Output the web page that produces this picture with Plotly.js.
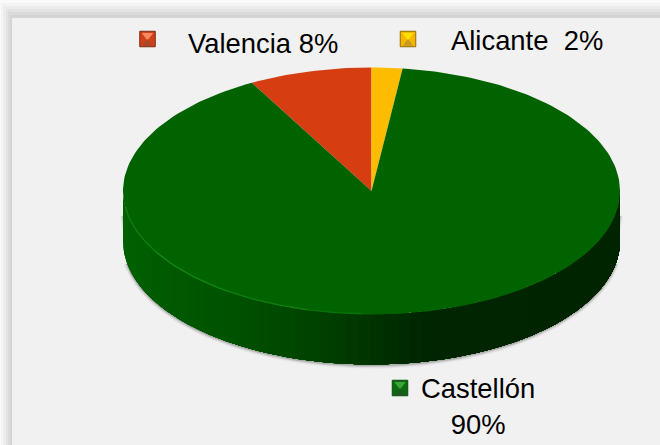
<!DOCTYPE html>
<html>
<head>
<meta charset="utf-8">
<script src="https://cdn.plot.ly/plotly-3.0.1.min.js"></script>
<style>html,body{margin:0;padding:0;background:#fff}#chart{width:660px;height:445px}</style>
</head>
<body>
<div id="chart"></div>
<script>
// Data
var categories = ['Valencia', 'Alicante', 'Castellón'];
var shares = [8, 2, 90];
var sliceColors = ['#d63e12', '#fdbc00', '#006300'];
var legendLabels = ['Valencia 8%', 'Alicante\u00a0\u00a02%', 'Castellón<br>90%'];

// Geometry of the tilted pie, in pixel-like axis units
var cx = 371.5, cy = 191, rx = 248.5, ry = 123.5, depth = 50;
var startDeg = -shares[0] * 3.6;

function pt(deg, dy) {
  var a = deg * Math.PI / 180;
  return [cx + rx * Math.sin(a), cy - ry * Math.cos(a) + (dy || 0)];
}
function arc(d0, d1, dy) {
  var out = [], n = Math.max(2, Math.ceil(Math.abs(d1 - d0) / 1.5));
  for (var i = 0; i <= n; i++) out.push(pt(d0 + (d1 - d0) * i / n, dy));
  return out;
}
function xs(p) { return p.map(function (q) { return q[0]; }); }
function ys(p) { return p.map(function (q) { return q[1]; }); }
function poly(p, color) {
  return {type: 'scatter', mode: 'lines', x: xs(p), y: ys(p), fill: 'toself',
    fillcolor: color, line: {width: 0, color: color}, hoverinfo: 'skip'};
}
function line(p, color, w) {
  return {type: 'scatter', mode: 'lines', x: xs(p), y: ys(p),
    line: {width: w, color: color, shape: 'linear'}, hoverinfo: 'skip'};
}

var traces = [];

// Soft shadow round the lower rim, starting part way down the wall
[[7, 0.03], [5, 0.05], [3, 0.09], [1.5, 0.14]].forEach(function (s) {
  var rim = arc(100, 260, depth + 1);
  traces.push(line(rim, 'rgba(0,0,0,' + s[1] + ')', s[0]));
  var sideL = arc(262, 270, depth - 14), sideR = arc(90, 98, depth - 14);
  traces.push(line([[sideL[0][0] - 0.5, cy + 40], [sideL[sideL.length - 1][0] - 0.5, cy + 25]], 'rgba(0,0,0,' + s[1] * 0.7 + ')', s[0] * 0.8));
  traces.push(line([[sideR[sideR.length - 1][0] + 0.5, cy + 40], [sideR[0][0] + 0.5, cy + 25]], 'rgba(0,0,0,' + s[1] * 0.7 + ')', s[0] * 0.8));
});

// Side wall: thin bands from left to right, each painted through to the right end
var shadeX = [123, 233, 317, 383, 420, 620];
var shadeG = [96, 80, 64, 46, 37, 36];
function shade(x) {
  for (var i = 1; i < shadeX.length; i++) {
    if (x <= shadeX[i]) {
      var t = (x - shadeX[i - 1]) / (shadeX[i] - shadeX[i - 1]);
      return 'rgb(0,' + Math.round(shadeG[i - 1] + (shadeG[i] - shadeG[i - 1]) * t) + ',0)';
    }
  }
  return 'rgb(0,36,0)';
}
for (var deg = 270; deg > 130; deg -= 3) {
  traces.push(poly(arc(90, deg, 0).concat(arc(deg, 90, depth)), shade(pt(deg)[0])));
}

// Top face, slices from the share values
var d = startDeg;
var sliceOrder = [0, 1, 2];
sliceOrder.forEach(function (i) {
  var d1 = d + shares[i] * 3.6;
  var p = [[cx, cy]].concat(arc(d, d1, 0)).concat([[cx, cy]]);
  traces.push(Object.assign(poly(p, sliceColors[i]), {name: categories[i]}));
  d = d1;
});

// Highlight along the lower left lip of the top face
[[262, 240, 0.55], [240, 215, 0.7], [215, 195, 0.55], [195, 182, 0.3]].forEach(function (s) {
  traces.push(line(arc(s[0], s[1], -0.6), 'rgba(24,150,24,' + s[2] + ')', 1.4));
});

// Legend swatches
var swatchX = [147.5, 408, 400];
var swatchY = [39, 39, 388];
var swatchBase = ['#cf4116', '#f7b500', '#0c6a10'];
var swatchEdge = ['#7d2a12', '#8f6c00', '#0a4a0c'];
var swatchLight = ['#f58a62', '#ffe000', '#37a837'];
var swatchLow = ['#a84a2a', '#c49a20', '#1d5a20'];
traces.push({type: 'scatter', mode: 'markers', x: swatchX, y: swatchY, hoverinfo: 'skip',
  marker: {symbol: 'square', size: 15.5, color: swatchBase, line: {width: 1, color: swatchEdge}}});
traces.push({type: 'scatter', mode: 'markers', x: swatchX, y: swatchY.map(function (v) { return v - 3.5; }), hoverinfo: 'skip',
  marker: {symbol: 'triangle-down', size: 10, color: swatchLight, line: {width: 0}}});
traces.push({type: 'scatter', mode: 'markers', x: swatchX, y: swatchY.map(function (v) { return v + 4.5; }), hoverinfo: 'skip',
  marker: {symbol: 'triangle-up', size: 9, color: swatchLow, line: {width: 0}}});

// Frame bands
var frameBands = [[0, 0, '#fafafa'], [1, 3, '#f4f4f4'], [3, 6, '#ececec'], [6, 9, '#e3e3e3'],
                  [8, 12, '#dbdbdb'], [10, 15, '#d4d4d4'], [12, 18, '#f1f1f1']];
var shapes = frameBands.map(function (b) {
  return {type: 'rect', xref: 'x', yref: 'y', x0: b[0], x1: 660, y0: b[1], y1: 445,
    fillcolor: b[2], line: {width: 0}, layer: 'below'};
});

var font = {family: '"Liberation Sans", Arial, sans-serif', size: 27.4, color: '#000000'};
var annotations = [
  {x: 186, y: 43, text: legendLabels[0], xanchor: 'left'},
  {x: 449, y: 40, text: legendLabels[1], xanchor: 'left'},
  {x: 477.5, y: 406, text: legendLabels[2], xanchor: 'center'}
].map(function (a) {
  return Object.assign(a, {xref: 'x', yref: 'y', yanchor: 'middle', showarrow: false, font: font, align: 'center'});
});

Plotly.newPlot('chart', traces, {
  width: 660, height: 445,
  margin: {l: 0, r: 0, t: 0, b: 0},
  paper_bgcolor: '#ffffff', plot_bgcolor: 'rgba(0,0,0,0)',
  showlegend: false,
  xaxis: {range: [0, 660], visible: false, fixedrange: true},
  yaxis: {range: [445, 0], visible: false, fixedrange: true},
  shapes: shapes,
  annotations: annotations
}, {displayModeBar: false, staticPlot: true});
</script>
</body>
</html>
